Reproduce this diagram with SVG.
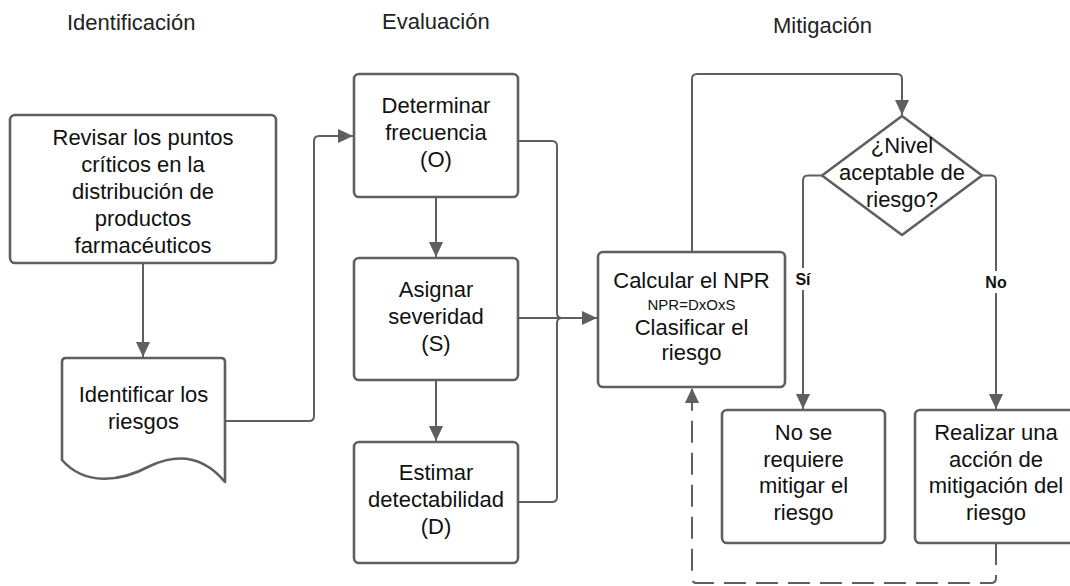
<svg xmlns="http://www.w3.org/2000/svg" width="1070" height="586" viewBox="0 0 1070 586">
  <defs>
    <marker id="ah" markerWidth="16" markerHeight="14" refX="15" refY="7" orient="auto" markerUnits="userSpaceOnUse">
      <path d="M0,0 L15,7 L0,14 z" fill="#5f5f5f"/>
    </marker>
    <style>
      .box { fill: #ffffff; stroke: #5f5f5f; stroke-width: 2.6; stroke-linejoin: round; }
      .t { font-family: "Liberation Sans", Arial, sans-serif; font-size: 22px; fill: #111111; text-anchor: middle; }
      .small { font-size: 15px; }
      .hdr { font-family: "Liberation Sans", Arial, sans-serif; font-size: 22px; fill: #222222; }
      .lbl { font-family: "Liberation Sans", Arial, sans-serif; font-size: 16px; font-weight: bold; fill: #111111; text-anchor: middle; }
      .conn { fill: none; stroke: #5f5f5f; stroke-width: 2; stroke-linejoin: round; }
      .dash { stroke-dasharray: 22 10; }
    </style>
  </defs>
  <rect width="1070" height="586" fill="#ffffff"/>

  <g id="headers">
    <text class="hdr" x="67" y="30">Identificación</text>
    <text class="hdr" x="382" y="29">Evaluación</text>
    <text class="hdr" x="773" y="33">Mitigación</text>
  </g>

  <g id="connectors">
    <path class="conn" d="M143,263 V357" marker-end="url(#ah)"/>
    <path class="conn" d="M225,421 H309 Q314,421 314,416 V141 Q314,136 319,136 H353" marker-end="url(#ah)"/>
    <path class="conn" d="M436,197 V257" marker-end="url(#ah)"/>
    <path class="conn" d="M436,380 V441" marker-end="url(#ah)"/>
    <path class="conn" d="M518,141 H552 Q557,141 557,146 V313 Q557,318 562,318"/>
    <path class="conn" d="M518,502 H552 Q557,502 557,497 V323 Q557,318 562,318"/>
    <path class="conn" d="M518,318 H597" marker-end="url(#ah)"/>
    <path class="conn" d="M692,252 V79 Q692,74 697,74 H897 Q902,74 902,79 V115" marker-end="url(#ah)"/>
    <path class="conn" d="M822,175.5 H808 Q803,175.5 803,180.5 V409" marker-end="url(#ah)"/>
    <path class="conn" d="M982,175.5 H991 Q996,175.5 996,180.5 V409" marker-end="url(#ah)"/>
    <path class="conn dash" d="M996,543 V578 Q996,583 991,583 H697 Q692,583 692,578 V388" marker-end="url(#ah)"/>
    <rect x="792" y="268" width="22" height="22" fill="#ffffff"/>
    <text class="lbl" x="803" y="285">Sí</text>
    <rect x="983" y="271" width="26" height="22" fill="#ffffff"/>
    <text class="lbl" x="996" y="288">No</text>
  </g>

  <g id="revisar">
    <rect class="box" x="10" y="115" width="266" height="148" rx="5"/>
    <text class="t" x="143" y="145">Revisar los puntos</text>
    <text class="t" x="143" y="172">críticos en la</text>
    <text class="t" x="143" y="199">distribución de</text>
    <text class="t" x="143" y="226">productos</text>
    <text class="t" x="143" y="253">farmacéuticos</text>
  </g>

  <g id="identificar">
    <path class="box" d="M66,358 H221 Q225,358 225,362 V482 C205,458 180,452 150,466 C120,482 85,486 62,460 V362 Q62,358 66,358 Z"/>
    <text class="t" x="143.5" y="402">Identificar los</text>
    <text class="t" x="143.5" y="429">riesgos</text>
  </g>

  <g id="determinar">
    <rect class="box" x="354" y="74" width="164" height="123" rx="5"/>
    <text class="t" x="436" y="113">Determinar</text>
    <text class="t" x="436" y="140">frecuencia</text>
    <text class="t" x="436" y="167">(O)</text>
  </g>

  <g id="asignar">
    <rect class="box" x="354" y="258" width="164" height="122" rx="5"/>
    <text class="t" x="436" y="297">Asignar</text>
    <text class="t" x="436" y="324">severidad</text>
    <text class="t" x="436" y="351">(S)</text>
  </g>

  <g id="estimar">
    <rect class="box" x="354" y="442" width="164" height="121" rx="5"/>
    <text class="t" x="436" y="480">Estimar</text>
    <text class="t" x="436" y="507">detectabilidad</text>
    <text class="t" x="436" y="534">(D)</text>
  </g>

  <g id="calcular">
    <rect class="box" x="598" y="252" width="187" height="135" rx="5"/>
    <text class="t" x="691.5" y="288">Calcular el NPR</text>
    <text class="t small" x="691.5" y="310">NPR=DxOxS</text>
    <text class="t" x="691.5" y="335">Clasificar el</text>
    <text class="t" x="691.5" y="360">riesgo</text>
  </g>

  <g id="decision">
    <path class="box" d="M902,116 L982,175.5 L902,235 L822,175.5 Z"/>
    <text class="t" x="902" y="153">¿Nivel</text>
    <text class="t" x="902" y="180">aceptable de</text>
    <text class="t" x="902" y="207">riesgo?</text>
  </g>

  <g id="no-mitigar">
    <rect class="box" x="722" y="410" width="163" height="133" rx="5"/>
    <text class="t" x="803.5" y="440">No se</text>
    <text class="t" x="803.5" y="467">requiere</text>
    <text class="t" x="803.5" y="493">mitigar el</text>
    <text class="t" x="803.5" y="520">riesgo</text>
  </g>

  <g id="realizar">
    <rect class="box" x="915" y="410" width="163" height="133" rx="5"/>
    <text class="t" x="996" y="440">Realizar una</text>
    <text class="t" x="996" y="467">acción de</text>
    <text class="t" x="996" y="493">mitigación del</text>
    <text class="t" x="996" y="520">riesgo</text>
  </g>
</svg>
